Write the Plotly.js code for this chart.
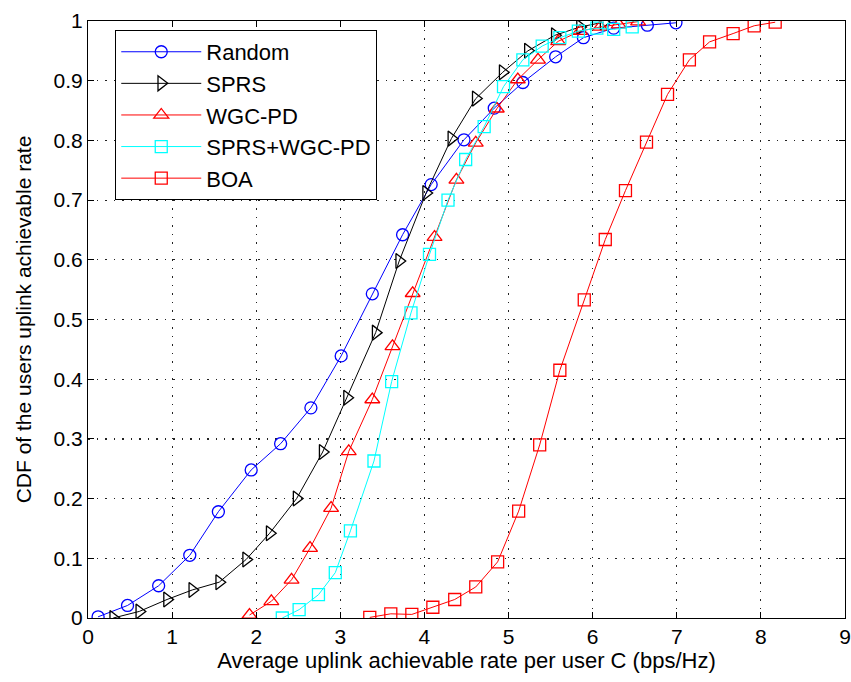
<!DOCTYPE html>
<html>
<head>
<meta charset="utf-8">
<script src="https://cdn.plot.ly/plotly-3.0.1.min.js"></script>
<style>body{margin:0;padding:0;background:#fff;} #chart{width:851px;height:682px;}</style>
</head>
<body>
<div id="chart"></div>
<script>
const randomX = [0.12,0.47,0.84,1.21,1.55,1.94,2.29,2.65,3.01,3.38,3.74,4.08,4.47,4.83,5.17,5.56,5.89,6.25,6.65,6.99];
const randomY = [0.002,0.021,0.054,0.105,0.178,0.248,0.292,0.352,0.439,0.543,0.642,0.726,0.801,0.854,0.897,0.940,0.972,0.988,0.993,0.997];

const sprsX = [0.30,0.61,0.94,1.24,1.56,1.88,2.16,2.48,2.79,3.08,3.42,3.70,4.02,4.32,4.61,4.93,5.23,5.55,5.85,6.13];
const sprsY = [0.000,0.011,0.031,0.047,0.060,0.098,0.142,0.200,0.278,0.369,0.478,0.598,0.712,0.803,0.870,0.914,0.950,0.976,0.990,0.998];

const wgcX = [1.92,2.18,2.42,2.64,2.89,3.10,3.38,3.62,3.86,4.12,4.38,4.61,4.86,5.11,5.35,5.59,5.85,6.09,6.31,6.54];
const wgcY = [0.005,0.028,0.064,0.117,0.184,0.279,0.366,0.455,0.544,0.638,0.734,0.796,0.853,0.902,0.935,0.966,0.983,0.990,0.994,0.999];

const sprsWgcX = [2.31,2.51,2.74,2.94,3.12,3.40,3.61,3.84,4.06,4.28,4.49,4.71,4.94,5.17,5.40,5.61,5.83,6.05,6.25,6.47];
const sprsWgcY = [0.000,0.014,0.039,0.076,0.146,0.263,0.396,0.511,0.609,0.700,0.768,0.823,0.890,0.935,0.958,0.972,0.983,0.988,0.986,0.990];

const boaX = [3.35,3.60,3.85,4.10,4.36,4.61,4.87,5.12,5.37,5.61,5.90,6.15,6.39,6.64,6.89,7.15,7.39,7.67,7.92,8.17];
const boaY = [0.001,0.007,0.006,0.018,0.031,0.052,0.094,0.179,0.290,0.415,0.533,0.634,0.716,0.797,0.877,0.935,0.965,0.979,0.992,0.998];

const seriesNames = ["Random","SPRS","WGC-PD","SPRS+WGC-PD","BOA"];
const xTickVals = [0,1,2,3,4,5,6,7,8,9];
const yTickVals = [0,0.1,0.2,0.3,0.4,0.5,0.6,0.7,0.8,0.9,1];
const yTickText = ["0","0.1","0.2","0.3","0.4","0.5","0.6","0.7","0.8","0.9","1"];

function tr(x, y, name, color, symbol, size){
  return {x:x, y:y, name:name, type:'scatter', mode:'lines+markers',
    line:{color:color, width:1},
    marker:{symbol:symbol, size:size, color:color, line:{color:color, width:1.3}}};
}
const data = [
  tr(randomX, randomY, seriesNames[0], '#0000ff', 'circle-open', 12),
  tr(sprsX, sprsY, seriesNames[1], '#000000', 'triangle-right-open', 13),
  tr(wgcX, wgcY, seriesNames[2], '#ff0000', 'triangle-up-open', 13),
  tr(sprsWgcX, sprsWgcY, seriesNames[3], '#00ffff', 'square-open', 12),
  tr(boaX, boaY, seriesNames[4], '#ff0000', 'square-open', 12)
];
const fam = 'Arial, "Liberation Sans", sans-serif';
const layout = {
  width:851, height:682,
  margin:{l:88, r:6, t:21, b:64},
  paper_bgcolor:'#fff', plot_bgcolor:'#fff',
  font:{family:fam, size:22, color:'#000'},
  showlegend:true,
  legend:{x:0.036, y:0.985, xanchor:'left', yanchor:'top', bgcolor:'#fff',
    bordercolor:'#000', borderwidth:1, font:{family:fam, size:22, color:'#000'},
    tracegroupgap:0, itemwidth:80},
  xaxis:{range:[0,9], tickvals:xTickVals, ticks:'inside', ticklen:6, tickcolor:'#000',
    showline:true, linecolor:'#000', linewidth:1, mirror:'ticks',
    showgrid:true, gridcolor:'#222', griddash:'1.5px,7px', gridwidth:1.2, zeroline:false,
    tickfont:{size:21}, title:{text:'Average uplink achievable rate per user C (bps/Hz)', font:{size:22}, standoff:3}},
  yaxis:{range:[0,1], tickvals:yTickVals, ticktext:yTickText, ticks:'inside', ticklen:6, tickcolor:'#000',
    showline:true, linecolor:'#000', linewidth:1, mirror:'ticks',
    showgrid:true, gridcolor:'#222', griddash:'1.5px,7px', gridwidth:1.2, zeroline:false,
    tickfont:{size:21}, title:{text:'CDF of the users uplink achievable rate', font:{size:21}, standoff:16}}
};
Plotly.newPlot('chart', data, layout, {displayModeBar:false, staticPlot:true});
</script>
</body>
</html>
